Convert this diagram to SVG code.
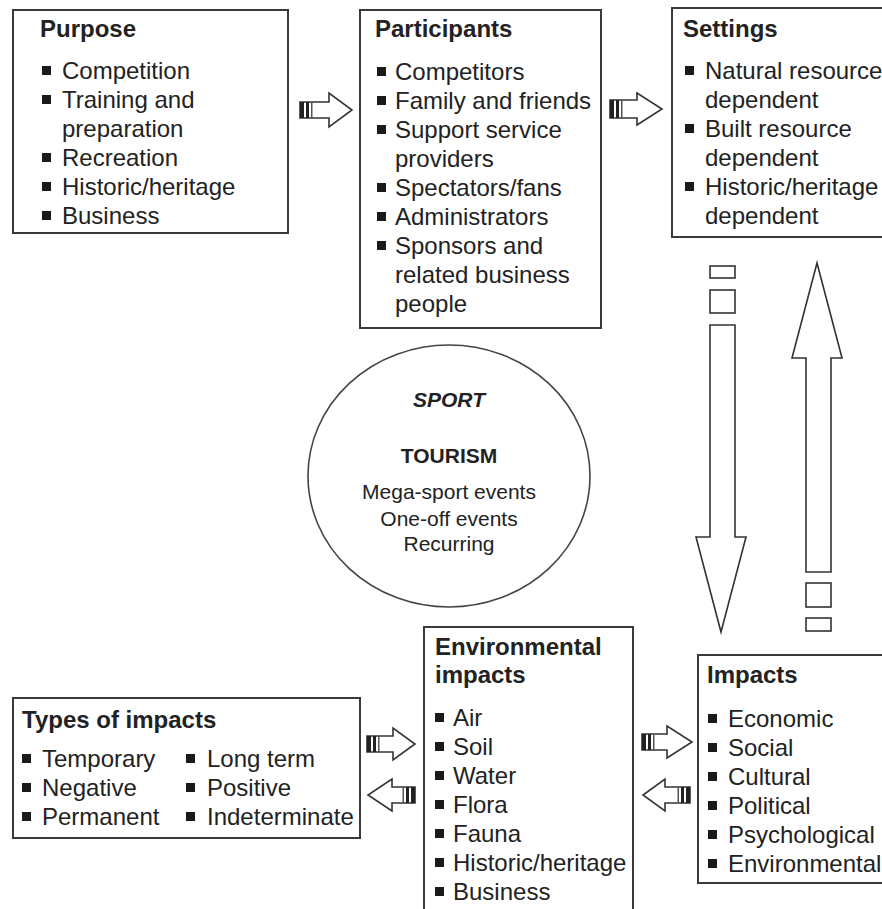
<svg xmlns="http://www.w3.org/2000/svg" width="882" height="909" viewBox="0 0 882 909">
<style>
.box{fill:#fff;stroke:#3a3a3a;stroke-width:2}
.t{font-family:"Liberation Sans",Arial,sans-serif;font-size:24px;fill:#222}
.b{font-weight:bold}
.e{font-family:"Liberation Sans",Arial,sans-serif;font-size:21px;fill:#222;text-anchor:middle}
.bl{fill:#1a1a1a}
.arr{fill:#fff;stroke:#333;stroke-width:1.6;stroke-linejoin:miter}
.st{fill:#222}
.st2{fill:#555}
</style>
<rect width="882" height="909" fill="#fff"/>
<g id="connectors">
  <g id="a1">
    <path class="arr" d="M300,102 H329 V93 L352,110 L329,127 V118 H300 Z"/>
    <rect class="st" x="300" y="102" width="4" height="16"/><rect class="st" x="306" y="102" width="3" height="16"/><rect class="st2" x="311" y="102" width="1.5" height="16"/>
  </g>
  <g id="a2">
    <path class="arr" d="M610,100 H637 V93 L662,109 L637,125 V118 H610 Z"/>
    <rect class="st" x="610" y="100" width="4" height="18"/><rect class="st" x="616" y="100" width="3" height="18"/><rect class="st2" x="621" y="100" width="1.5" height="18"/>
  </g>
  <g id="a3">
    <path class="arr" d="M367,736 H393 V728 L415,744 L393,760 V752 H367 Z"/>
    <rect class="st" x="367" y="736" width="4" height="16"/><rect class="st" x="373" y="736" width="3" height="16"/><rect class="st2" x="378" y="736" width="1.5" height="16"/>
  </g>
  <g id="a4">
    <path class="arr" d="M415,787 H392 V779 L368,795 L392,811 V803 H415 Z"/>
    <rect class="st" x="411" y="787" width="4" height="16"/><rect class="st" x="406" y="787" width="3" height="16"/><rect class="st2" x="402.5" y="787" width="1.5" height="16"/>
  </g>
  <g id="a5">
    <path class="arr" d="M642,734 H667 V726 L692,742 L667,758 V750 H642 Z"/>
    <rect class="st" x="642" y="734" width="4" height="16"/><rect class="st" x="648" y="734" width="3" height="16"/><rect class="st2" x="653" y="734" width="1.5" height="16"/>
  </g>
  <g id="a6">
    <path class="arr" d="M690,787 H665 V779 L643,795 L665,811 V803 H690 Z"/>
    <rect class="st" x="686" y="787" width="4" height="16"/><rect class="st" x="681" y="787" width="3" height="16"/><rect class="st2" x="677.5" y="787" width="1.5" height="16"/>
  </g>
  <g id="down">
    <rect class="arr" x="710" y="266" width="25" height="12"/>
    <rect class="arr" x="710" y="290" width="25" height="23"/>
    <path class="arr" d="M710,325 H735 V537 H746 L721,632 L696,537 H710 Z"/>
  </g>
  <g id="up">
    <path class="arr" d="M806,572 H831 V358 H842 L817,263 L792,358 H806 Z"/>
    <rect class="arr" x="806" y="583" width="25" height="24"/>
    <rect class="arr" x="806" y="618" width="25" height="13"/>
  </g>
</g>
<g id="purpose">
  <rect class="box" x="13" y="10" width="275" height="223"/>
  <text class="t b" x="40" y="37">Purpose</text>
  <rect class="bl" x="42" y="66" width="9" height="9"/>
  <rect class="bl" x="42" y="95" width="9" height="9"/>
  <rect class="bl" x="42" y="153" width="9" height="9"/>
  <rect class="bl" x="42" y="182" width="9" height="9"/>
  <rect class="bl" x="42" y="211" width="9" height="9"/>
  <text class="t"><tspan x="62" y="79">Competition</tspan><tspan x="62" y="108">Training and</tspan><tspan x="62" y="137">preparation</tspan><tspan x="62" y="166">Recreation</tspan><tspan x="62" y="195">Historic/heritage</tspan><tspan x="62" y="224">Business</tspan></text>
</g>
<g id="participants">
  <rect class="box" x="360" y="10" width="241" height="318"/>
  <text class="t b" x="375" y="37">Participants</text>
  <rect class="bl" x="377" y="67" width="9" height="9"/>
  <rect class="bl" x="377" y="96" width="9" height="9"/>
  <rect class="bl" x="377" y="125" width="9" height="9"/>
  <rect class="bl" x="377" y="183" width="9" height="9"/>
  <rect class="bl" x="377" y="212" width="9" height="9"/>
  <rect class="bl" x="377" y="241" width="9" height="9"/>
  <text class="t"><tspan x="395" y="80">Competitors</tspan><tspan x="395" y="109">Family and friends</tspan><tspan x="395" y="138">Support service</tspan><tspan x="395" y="167">providers</tspan><tspan x="395" y="196">Spectators/fans</tspan><tspan x="395" y="225">Administrators</tspan><tspan x="395" y="254">Sponsors and</tspan><tspan x="395" y="283">related business</tspan><tspan x="395" y="312">people</tspan></text>
</g>
<g id="settings">
  <rect class="box" x="672" y="8" width="220" height="229"/>
  <text class="t b" x="683" y="37">Settings</text>
  <rect class="bl" x="685" y="66" width="9" height="9"/>
  <rect class="bl" x="685" y="124" width="9" height="9"/>
  <rect class="bl" x="685" y="182" width="9" height="9"/>
  <text class="t"><tspan x="705" y="79">Natural resource</tspan><tspan x="705" y="108">dependent</tspan><tspan x="705" y="137">Built resource</tspan><tspan x="705" y="166">dependent</tspan><tspan x="705" y="195">Historic/heritage</tspan><tspan x="705" y="224">dependent</tspan></text>
</g>
<g id="sport">
  <ellipse cx="449" cy="476" rx="141" ry="131" fill="#fff" stroke="#444" stroke-width="1.6"/>
  <text class="e b" x="449" y="407" font-style="italic">SPORT</text>
  <text class="e b" x="449" y="463">TOURISM</text>
  <text class="e"><tspan x="449" y="499">Mega-sport events</tspan><tspan x="449" y="526">One-off events</tspan><tspan x="449" y="551">Recurring</tspan></text>
</g>
<g id="env">
  <rect class="box" x="424" y="627" width="209" height="300"/>
  <text class="t b"><tspan x="435" y="655">Environmental</tspan><tspan x="435" y="683">impacts</tspan></text>
  <rect class="bl" x="435" y="713" width="9" height="9"/>
  <rect class="bl" x="435" y="742" width="9" height="9"/>
  <rect class="bl" x="435" y="771" width="9" height="9"/>
  <rect class="bl" x="435" y="800" width="9" height="9"/>
  <rect class="bl" x="435" y="829" width="9" height="9"/>
  <rect class="bl" x="435" y="858" width="9" height="9"/>
  <rect class="bl" x="435" y="887" width="9" height="9"/>
  <text class="t"><tspan x="453" y="726">Air</tspan><tspan x="453" y="755">Soil</tspan><tspan x="453" y="784">Water</tspan><tspan x="453" y="813">Flora</tspan><tspan x="453" y="842">Fauna</tspan><tspan x="453" y="871">Historic/heritage</tspan><tspan x="453" y="900">Business</tspan></text>
</g>
<g id="impacts">
  <rect class="box" x="698" y="655" width="200" height="228"/>
  <text class="t b" x="707" y="683">Impacts</text>
  <rect class="bl" x="708" y="714" width="9" height="9"/>
  <rect class="bl" x="708" y="743" width="9" height="9"/>
  <rect class="bl" x="708" y="772" width="9" height="9"/>
  <rect class="bl" x="708" y="801" width="9" height="9"/>
  <rect class="bl" x="708" y="830" width="9" height="9"/>
  <rect class="bl" x="708" y="859" width="9" height="9"/>
  <text class="t"><tspan x="728" y="727">Economic</tspan><tspan x="728" y="756">Social</tspan><tspan x="728" y="785">Cultural</tspan><tspan x="728" y="814">Political</tspan><tspan x="728" y="843">Psychological</tspan><tspan x="728" y="872">Environmental</tspan></text>
</g>
<g id="types">
  <rect class="box" x="13" y="698" width="347" height="140"/>
  <text class="t b" x="22" y="728">Types of impacts</text>
  <rect class="bl" x="22" y="754" width="9" height="9"/>
  <rect class="bl" x="22" y="783" width="9" height="9"/>
  <rect class="bl" x="22" y="812" width="9" height="9"/>
  <rect class="bl" x="186" y="754" width="9" height="9"/>
  <rect class="bl" x="186" y="783" width="9" height="9"/>
  <rect class="bl" x="186" y="812" width="9" height="9"/>
  <text class="t"><tspan x="42" y="767">Temporary</tspan><tspan x="42" y="796">Negative</tspan><tspan x="42" y="825">Permanent</tspan></text>
  <text class="t"><tspan x="207" y="767">Long term</tspan><tspan x="207" y="796">Positive</tspan><tspan x="207" y="825">Indeterminate</tspan></text>
</g>
</svg>
